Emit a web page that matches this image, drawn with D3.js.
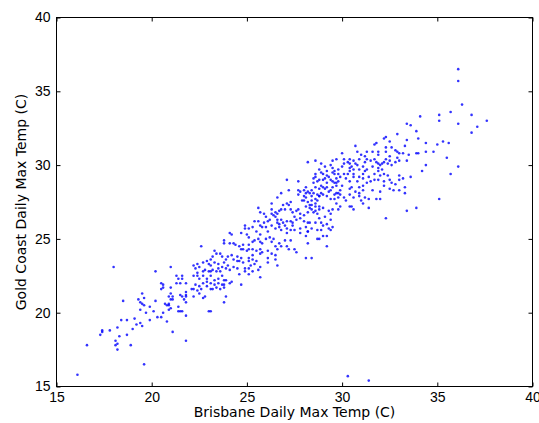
<!DOCTYPE html>
<html>
<head>
<meta charset="utf-8">
<script src="https://cdn.jsdelivr.net/npm/d3@7"></script>
<style>
  body { margin: 0; background: #fff; }
  svg { display: block; font-family: "DejaVu Sans", sans-serif; }
</style>
</head>
<body>
<div class="canvas"></div>
<script>
// axis ticks
const xTicks = [15, 20, 25, 30, 35, 40];
const yTicks = [15, 20, 25, 30, 35, 40];

// daily max temps: [brisbane, gold coast]
const lowEnd = [
  [16.1,15.8],[16.6,17.8],[17.3,18.5],[17.4,18.7],[17.4,18.8],[17.8,18.8],[18.1,18.1],[18.1,17.8],
  [18.2,17.9],[18.2,17.5],[18.3,18.4],[18.2,19.0],[18.4,19.5],[18.7,19.5],[18.7,18.5],[18.9,17.8],
  [19.0,18.9],[19.1,19.6],[19.2,19.2],[19.4,19.3],[19.5,19.1],[19.6,16.5],[18.5,20.8],[18.0,23.1]
];

const band1 = [
  [19.5,21.3],[19.6,21.0],[19.3,20.9],[19.4,20.7],[19.4,20.2],[19.5,20.6],[19.6,20.5],[19.7,20.0],
  [19.9,20.4],[19.9,19.5],[20.1,20.1],[20.2,20.8],[20.3,19.7],[20.5,19.7],[20.6,20.0],[20.8,19.4],
  [20.8,20.5],[20.9,20.2],[20.9,20.6],[20.7,20.6],[21.0,20.3],[20.9,20.5],[21.0,21.7],[21.0,21.3],
  [20.9,21.1],[21.1,21.1],[21.1,20.9],[21.0,20.9],[20.5,22.0],[20.6,21.9],[20.6,21.7],[20.5,21.6],
  [20.2,22.8],[21.0,23.1],[21.3,22.5],[21.4,22.3],[21.3,22.0],[21.5,22.0],[21.6,22.5],[21.6,22.3],
  [21.8,22.0],[21.8,21.4],[21.8,21.1],[21.7,20.9],[21.6,21.1],[21.8,21.2],[21.5,21.2],[21.4,20.4],
  [21.5,20.1],[21.6,20.1],[21.4,20.1],[21.8,19.8],[21.8,20.7],[21.1,18.7],[21.8,18.1]
];

const band2 = [
  [22.2,22.5],[22.4,22.5],[22.5,22.3],[22.7,22.5],[22.9,22.3],[23.1,22.5],[23.3,22.2],[23.5,22.3],
  [23.7,22.5],[23.8,22.2],[23.9,22.2],[22.7,22.0],[22.9,22.1],[23.1,22.0],[23.3,21.9],[23.5,22.0],
  [23.7,21.9],[23.8,21.7],[24.1,22.0],[24.2,22.1],[22.3,21.9],[22.5,21.8],[22.1,21.6],[22.2,21.6],
  [22.4,21.5],[22.6,21.6],[22.9,21.8],[23.1,21.6],[23.2,21.6],[23.4,21.7],[23.6,21.6],[23.8,21.9],
  [22.8,21.1],[22.5,21.3],[22.7,21.0],[22.2,21.1],[24.7,21.9],[23.9,21.1],[23.0,20.1],[23.1,20.1],
  [23.8,20.7],[22.6,24.5],[23.3,24.2],[23.4,24.0],[23.2,23.8],[23.1,23.6],[23.6,24.0],[23.7,23.8],
  [23.9,23.6],[24.0,23.8],[24.2,23.9],[24.0,23.2],[24.3,23.6],[24.5,23.8],[24.6,23.5],[24.8,23.4],
  [25.1,23.5],[25.3,23.6],[25.4,23.3],[25.7,23.1],[25.1,23.0],[24.9,23.0],[24.3,23.1],[23.7,23.1],
  [23.5,23.3],[23.3,23.4],[23.1,23.2],[22.9,23.5],[22.7,23.4],[22.4,23.3],[22.2,23.2],[22.3,23.0],
  [22.5,23.1],[22.8,22.9],[23.1,22.8],[23.4,22.8],[23.6,22.8],[23.9,23.0],[24.1,22.9],[24.5,23.0],
  [24.6,22.6],[25.1,22.6],[25.7,22.4],[22.4,22.7],
  [24.5,23.5],[24.7,23.7],[23.8,23.4],[23.0,23.3],[22.7,22.8],[23.0,22.8],[23.2,22.9],[23.5,23.0],
  [24.9,22.8],[25.2,23.2],[25.3,22.8],[25.6,22.9],[26.1,23.4],[26.5,23.6],[26.6,23.2]
];

const band3 = [
  [24.1,25.4],[24.2,25.3],[25.1,25.1],[25.3,24.8],[25.4,24.9],[25.7,24.8],[25.6,25.0],[25.8,24.7],
  [26.0,25.0],[26.3,24.8],[26.5,24.5],[26.7,24.7],[26.8,24.5],[27.1,24.5],[27.2,24.3],[27.5,24.3],
  [27.6,24.1],[28.4,23.7],[28.1,23.7],[28.8,25.0],[28.2,24.7],[27.3,24.9],[27.0,24.9],[23.8,24.9],
  [23.8,24.7],[24.3,24.7],[24.4,24.6],[24.6,24.5],[24.8,24.6],[24.8,24.3],[25.0,24.2],[25.1,24.3],
  [25.3,24.3],[25.5,24.2],[25.7,24.0],[26.1,23.7],[26.5,23.9],[26.6,24.3],[26.5,26.5],[26.6,26.1],
  [26.7,26.0],[26.9,26.1],[27.0,25.9],[27.3,26.2],[27.4,26.1],[27.6,26.3],[27.8,26.4],[28.0,26.2],
  [28.2,26.1],[28.3,26.1],[28.6,26.1],[28.7,25.6],[28.2,25.5],[27.8,25.4],[27.5,25.6],[27.3,25.6],
  [27.1,25.4],[26.8,25.6],[26.5,25.7],[26.3,25.9],[26.1,26.2],[25.9,26.1],[25.8,25.8],[25.6,26.2],
  [25.4,26.2],[25.3,25.8],[25.1,25.7],[24.9,25.9],[24.9,25.7],[24.7,25.4],[25.0,25.3],
  [26.3,26.7],[26.6,26.3],[25.5,25.5],[25.7,25.3],[26.1,25.5],[26.2,25.1],[26.4,25.0],[24.1,24.7],
  [24.7,24.3],[25.1,24.6],[25.7,24.3],[25.3,23.9],[25.1,23.7],[25.5,23.5],[25.8,24.1],[26.1,24.2],
  [26.3,24.0]
];

const band4 = [
  [27.1,29.0],[27.7,28.9],[28.1,28.5],[28.4,28.3],[28.5,28.8],[28.7,28.9],[28.6,28.5],[28.8,28.4],
  [28.1,28.1],[28.3,28.1],[28.5,28.1],[28.7,28.0],[28.1,27.8],[28.4,27.9],[28.6,27.7],[28.8,27.9],
  [27.7,28.3],[27.7,28.0],[28.0,27.9],[27.2,28.3],[26.8,28.1],[26.6,27.8],[28.0,27.6],[28.2,27.5],
  [28.3,27.3],[28.4,27.3],[28.6,27.4],[28.7,27.6],[28.8,27.2],[28.4,27.0],[28.5,26.8],[28.7,26.7],
  [28.2,26.8],[28.0,26.6],[27.7,27.0],[27.6,26.9],[27.4,26.8],[27.3,27.5],[27.2,27.3],[27.1,27.4],
  [27.3,27.0],[26.8,27.0],[26.7,26.9],[26.6,26.7],[26.3,27.0],[26.5,26.8],[26.3,27.4],[25.6,27.1],
  [25.7,26.8],[25.9,26.7],[26.0,26.5],[28.1,25.2],[28.2,25.5],[28.4,25.7],[28.7,25.0],[29.0,25.2],
  [29.2,25.2],[29.2,24.5],[29.4,25.6],
  [27.8,28.2],[28.0,28.3],[28.2,28.2],[28.9,28.6],[29.1,28.4],[29.3,28.2],[28.9,28.1],[29.7,28.1],
  [27.9,27.6],[28.4,27.6],[28.6,27.2],[28.3,27.1],[28.1,27.2],[26.9,27.3],[27.0,27.0],[27.5,26.5],
  [27.8,26.7],[28.6,26.9],[29.3,26.9],[29.2,26.0],[28.9,26.1],[27.4,25.9],[27.1,26.2],[26.8,26.3],
  [26.4,26.6],[26.2,26.3],[25.7,25.9],[26.0,25.8],[26.7,25.8],[27.1,25.7],[27.8,25.7],[28.1,25.8],
  [28.9,25.6],[29.8,27.0],[29.7,27.4],[29.7,28.6]
];

const band5 = [
  [30.1,30.4],[30.1,30.1],[30.3,30.2],[30.4,30.4],[30.6,30.3],[30.5,29.9],[30.7,30.1],[30.9,30.4],
  [31.1,29.9],[31.2,30.2],[31.3,30.4],[31.5,30.3],[31.7,30.4],[31.8,30.2],[31.9,30.7],[31.9,29.8],
  [32.0,30.0],[32.2,30.2],[32.4,30.1],[32.5,30.3],[32.8,30.2],[32.9,30.5],[33.0,30.3],[31.9,29.6],
  [31.6,29.9],[31.3,29.7],[30.9,29.7],[30.9,29.2],[30.8,28.9],[30.6,29.7],[30.4,29.8],[30.0,29.9],
  [29.8,29.7],[29.5,29.8],[29.5,29.5],[29.2,29.6],[29.2,29.3],[29.0,29.4],[28.8,29.7],[28.6,29.4],
  [28.5,29.1],[29.0,29.0],[29.3,29.2],[29.5,28.9],[29.6,28.8],[29.7,29.1],[29.9,29.2],[30.1,29.4],
  [30.2,29.1],[30.4,28.9],[30.6,29.2],[31.1,29.4],[31.2,29.6],[31.4,29.2],[31.5,28.9],[31.9,29.0],
  [32.0,29.3],[32.4,29.3],[32.6,28.8],[33.0,29.0],[32.2,28.6],[32.5,28.4],[33.3,28.1],[32.0,27.7],
  [31.4,27.1],[32.3,26.4],[33.4,26.9],[33.9,27.1],[33.6,29.2],[31.1,28.6],[30.9,28.5],[31.1,28.3],
  [30.9,28.1],[30.7,28.2],[30.5,28.5],[30.4,28.4],[30.0,28.6],[29.9,28.3],[29.8,28.1],[29.5,28.5],
  [29.4,28.3],[29.2,28.5],[29.0,28.5],[28.8,27.9],[29.0,28.0],[29.2,27.9],[29.4,27.7],[29.6,27.7],
  [29.8,27.8],[30.1,27.8],[30.2,27.6],[30.4,28.0],[30.6,27.8],[31.0,27.6],[31.2,27.8],[31.4,27.7],
  [31.1,27.4],[30.5,27.2],[30.6,27.0],[30.4,27.2],[29.9,27.2],[29.5,27.0],[29.4,26.7],[29.1,26.5],
  [29.0,27.1],[28.8,27.0],[28.8,26.4],[29.4,26.3],[29.5,25.8],[29.0,25.9],[29.3,25.7],
  [29.1,29.9],[29.4,30.0],[29.6,29.6],[29.8,29.4],[28.6,29.2],[28.9,29.5],[29.1,29.1],[28.8,29.0],
  [29.2,28.8],[29.4,29.0],[29.8,28.9],[31.0,30.7],[31.2,30.6],[31.9,30.1],[32.1,30.1],[32.3,30.4],
  [32.5,30.6],[32.6,30.0],[32.1,29.7],[32.2,29.4],[31.7,29.4],[30.8,30.0],[30.4,30.1],[29.6,29.4],
  [30.3,29.4],[30.4,29.6],[30.6,29.4],[31.1,29.1],[31.3,28.8],[31.7,29.0],[32.2,28.9],[32.5,29.0],
  [32.8,28.7],[33.0,29.3],[33.2,29.1],[33.3,28.5],[33.0,28.3],[32.7,28.3],[32.0,28.2],[31.6,28.3],
  [29.7,28.8],[29.6,28.0],[29.9,28.0],[30.9,27.9],[31.8,27.7]
];

const highEnd = [
  [34.1,33.3],[33.4,32.8],[33.6,32.7],[33.9,32.3],[34.0,31.8],[34.4,31.5],[32.9,32.1],[32.3,31.9],
  [32.5,31.6],[31.8,31.5],[31.7,31.4],[30.7,31.3],[30.0,30.8],[30.8,30.9],[31.3,30.9],[31.6,30.9],
  [31.9,30.9],[32.3,31.2],[32.6,31.2],[32.3,30.9],[32.8,31.0],[32.9,30.9],[33.0,30.8],[33.3,31.3],
  [33.9,30.8],[34.0,30.8],[33.4,30.3],[34.4,30.0],[28.2,30.2],[28.6,30.3],[28.9,30.1],[29.5,30.3],
  [29.7,30.4],[36.1,36.5],[36.1,35.7],[36.3,34.1],[35.1,33.4],[35.1,33.0],[35.7,33.6],[36.8,33.4],
  [37.6,33.0],[36.1,32.8],[37.1,32.6],[36.8,32.2],[35.3,31.6],[35.6,31.5],[35.0,31.4],[34.4,30.9],
  [34.8,30.9],[35.5,30.5],[36.1,29.9],[35.7,29.4],[35.1,27.7],[33.5,30.7],[33.2,30.8],[34.2,29.6],
  [33.4,31.7],[32.2,31.8]
];

// the two cool days at the bottom
const outliers = [[30.3,15.7],[31.4,15.4]];

const points = [...lowEnd, ...band1, ...band2, ...band3, ...band4, ...band5, ...highEnd, ...outliers];

// plot area edges in the picture
const dims = { width: 539, height: 423, left: 56.5, right: 532.5, top: 17.5, bottom: 386.5 };

const svg = d3.select('.canvas')
    .append('svg')
    .attr('width', dims.width)
    .attr('height', dims.height);

const x = d3.scaleLinear().domain([15, 40]).range([dims.left, dims.right]);
const y = d3.scaleLinear().domain([15, 40]).range([dims.bottom, dims.top]);

// dots first so the frame sits on top
svg.append('g')
    .selectAll('circle')
    .data(points)
    .enter()
    .append('circle')
    .attr('cx', d => x(d[0]))
    .attr('cy', d => y(d[1]))
    .attr('r', 1.3)
    .attr('fill', '#0000ff')
    .attr('fill-opacity', 0.8);

// ticks point inwards on all four sides, labels only bottom and left
const styleAxis = g => {
    g.select('.domain').remove();
    g.selectAll('line').attr('stroke', '#000');
    g.selectAll('text').attr('fill', '#000').style('font-size', '14px');
};

svg.append('g')
    .attr('transform', `translate(0, ${dims.bottom})`)
    .call(d3.axisBottom(x).tickValues(xTicks).tickSize(-4).tickPadding(6).tickFormat(d3.format('d')))
    .call(styleAxis);

svg.append('g')
    .attr('transform', `translate(0, ${dims.top})`)
    .call(d3.axisTop(x).tickValues(xTicks).tickSize(-4).tickFormat(''))
    .call(styleAxis);

svg.append('g')
    .attr('transform', `translate(${dims.left}, 0)`)
    .call(d3.axisLeft(y).tickValues(yTicks).tickSize(-4).tickPadding(6).tickFormat(d3.format('d')))
    .call(styleAxis);

svg.append('g')
    .attr('transform', `translate(${dims.right}, 0)`)
    .call(d3.axisRight(y).tickValues(yTicks).tickSize(-4).tickFormat(''))
    .call(styleAxis);

// frame
svg.append('rect')
    .attr('x', dims.left)
    .attr('y', dims.top)
    .attr('width', dims.right - dims.left)
    .attr('height', dims.bottom - dims.top)
    .attr('fill', 'none')
    .attr('stroke', '#000')
    .attr('stroke-width', 1);

// axis titles
svg.append('text')
    .attr('x', (dims.left + dims.right) / 2)
    .attr('y', 417)
    .attr('text-anchor', 'middle')
    .style('font-size', '14px')
    .text('Brisbane Daily Max Temp (C)');

svg.append('text')
    .attr('transform', `translate(26, ${(dims.top + dims.bottom) / 2}) rotate(-90)`)
    .attr('text-anchor', 'middle')
    .style('font-size', '14px')
    .text('Gold Coast Daily Max Temp (C)');
</script>
</body>
</html>
